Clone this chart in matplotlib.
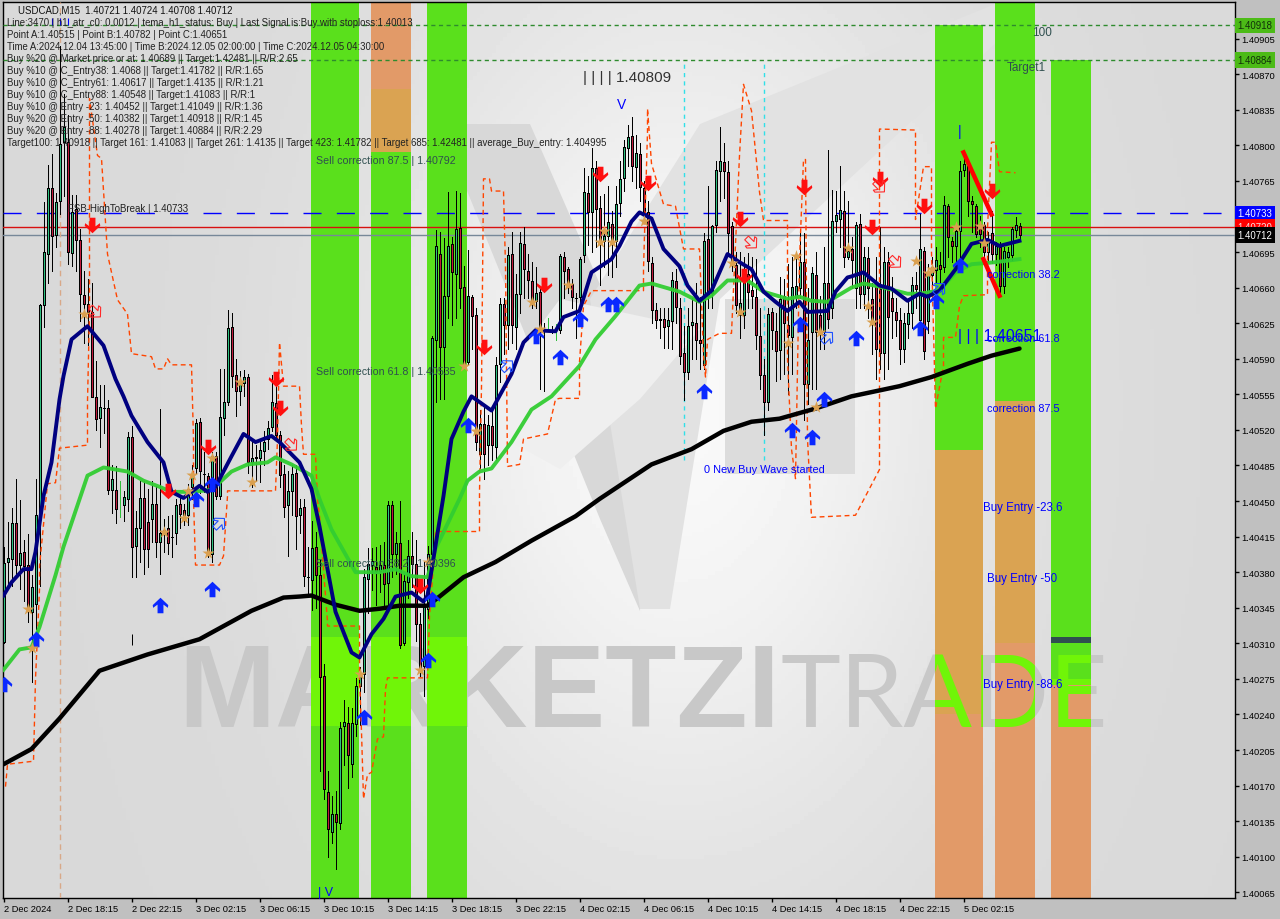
import matplotlib
matplotlib.use("Agg")
import matplotlib.pyplot as plt
import numpy as np
from matplotlib.patches import Polygon
from matplotlib.path import Path
from matplotlib.transforms import Affine2D, Bbox, TransformedBbox

# all prices are stored as points above 1.40000
opens = [311,390,393,428,387,400,387,341,349,435,
         643,693,758,712,745,803,803,694,737,707,
         653,644,636,552,532,542,542,461,461,452,
         446,452,513,406,423,453,429,432,447,410,
         418,423,415,419,447,441,436,464,482,528,
         477,475,398,494,455,532,547,621,574,558,
         566,572,488,492,492,499,511,523,546,515,
         477,446,460,478,436,444,375,372,405,377,
         278,164,124,142,133,229,232,191,231,268,
         280,373,387,385,381,387,369,446,398,409,
         310,370,396,388,329,288,344,398,608,693,
         602,652,703,673,719,661,587,651,633,496,
         526,505,524,503,585,644,623,693,621,654,
         703,676,666,647,656,618,618,618,618,618,
         690,678,664,650,651,692,753,734,778,738,
         706,711,723,706,743,768,797,809,779,791,
         758,734,684,638,629,629,622,627,666,640,
         596,577,623,625,608,584,708,655,722,775,
         784,774,721,682,633,633,673,658,651,612,
         574,547,636,617,599,652,623,611,651,660,
         685,565,616,672,633,616,665,640,726,727,
         735,690,698,660,723,654,689,649,665,659,
         596,685,650,636,628,600,624,635,663,628,
         696,627,672,677,682,680,740,706,701,716,
         776,780,745,740,723,722,695,714,693,700,
         662,690,692,717,721]
highs = [405,429,443,472,451,412,418,377,472,644,
         744,781,791,753,898,850,830,751,751,718,
         676,668,665,588,564,564,549,485,484,470,
         460,518,524,440,470,470,462,470,465,541,
         432,435,436,452,455,447,467,485,531,532,
         498,478,498,498,580,580,638,635,590,578,
         579,575,508,505,508,519,529,574,564,519,
         485,480,485,485,452,452,405,430,420,392,
         290,184,160,165,233,254,247,246,276,287,
         383,404,404,405,407,410,450,450,420,450,
         378,412,420,412,340,390,406,612,717,715,
         709,754,710,755,753,681,697,653,640,540,
         545,535,540,592,650,650,700,715,673,715,
         720,693,685,680,660,625,630,622,624,693,
         695,680,668,655,690,778,770,797,785,750,
         752,760,735,760,785,805,820,828,810,802,
         765,745,690,645,640,640,640,675,678,650,
         622,640,650,665,651,714,760,722,785,818,
         802,785,725,695,695,690,694,690,688,640,
         590,640,640,635,670,668,683,690,690,715,
         714,660,680,695,652,700,795,756,755,780,
         755,745,710,725,732,700,700,665,690,720,
         700,695,670,650,640,635,650,670,675,732,
         700,683,690,700,695,750,742,710,720,785,
         790,785,750,742,730,725,715,735,705,705,
         700,700,720,729,724]
lows = [310,363,366,377,363,352,331,272,324,366,
        621,665,676,700,732,750,683,681,676,627,
        605,604,552,520,503,517,457,438,428,434,
        430,440,375,375,390,378,385,410,395,378,
        400,398,395,408,423,426,426,452,478,458,
        459,395,390,452,452,515,544,562,534,544,
        553,478,464,470,469,485,501,519,510,464,
        434,396,436,403,419,366,358,343,345,184,
        157,100,114,88,127,190,168,178,219,230,
        262,340,362,348,360,345,348,375,378,305,
        308,355,365,312,278,258,335,400,547,550,
        550,630,623,630,640,583,585,600,500,482,
        472,485,490,490,567,595,600,605,600,635,
        650,650,640,640,560,558,618,615,608,615,
        650,655,640,610,640,685,702,695,700,663,
        680,672,670,680,730,755,780,765,758,745,
        725,676,625,620,610,601,601,600,625,585,
        549,570,590,590,580,580,640,640,715,745,
        748,695,676,635,610,620,640,640,600,560,
        515,540,600,568,570,575,555,575,640,650,
        530,545,560,560,600,600,620,630,715,700,
        680,688,660,640,640,640,630,595,570,580,
        570,580,610,612,585,587,610,620,640,620,
        590,615,660,665,665,675,690,685,685,690,
        770,730,715,710,700,688,685,684,682,656,
        655,680,687,710,708]
closes = [389,394,428,387,399,386,345,365,436,643,
          695,758,711,744,801,818,695,734,707,654,
          644,636,552,531,543,542,461,472,442,452,
          454,513,405,423,453,403,403,447,410,419,
          421,409,415,446,437,436,462,477,527,480,
          477,400,494,455,533,547,620,573,558,568,
          572,488,492,493,500,508,522,547,515,476,
          444,460,477,435,443,376,375,404,377,277,
          167,127,142,134,227,233,200,232,268,278,
          375,388,391,381,387,368,446,398,409,308,
          371,396,388,329,286,346,398,610,701,602,
          652,701,675,718,660,585,652,632,508,526,
          496,525,505,584,644,623,692,623,654,704,
          678,667,646,655,618,618,618,618,618,691,
          676,663,651,650,688,754,734,778,737,705,
          711,725,705,742,767,798,808,780,792,759,
          734,686,638,628,628,621,628,667,641,593,
          577,622,626,608,605,706,652,721,776,785,
          775,714,682,643,645,674,656,652,613,574,
          547,634,618,598,649,625,613,661,662,685,
          565,608,674,616,616,665,629,726,731,736,
          690,696,687,722,654,690,660,626,600,596,
          685,631,637,628,600,625,635,663,659,698,
          598,673,680,687,678,741,710,701,716,775,
          782,745,742,713,713,695,708,693,701,662,
          696,695,718,722,712]
thin_green = [29, 136, 138]

navy_bar = [0,2,5,7,8,10,12,14,15,17,21,25,28,30,32,36,40,42,45,49,51,53,57,60,63,67,69,74,77,79,83,
            87,89,92,95,98,102,105,106,110,112,115,117,122,127,130,133,138,140,144,147,152,154,157,159,
            162,165,169,171,174,177,181,184,187,190,193,196,199,201,206,208,211,212,215,219,222,226,229,
            231,234,238,242,246,249,254]
navy_val = [357,370,383,383,400,455,488,550,573,609,622,603,570,553,534,508,488,459,453,465,459,464,494,
            516,508,514,508,488,462,425,341,301,296,319,334,356,360,351,357,455,511,538,553,539,575,606,
            618,617,631,637,675,688,701,725,734,728,698,681,662,647,657,693,685,678,656,646,637,646,636,
            637,656,670,671,675,662,659,647,654,651,657,678,703,707,701,706]
green_bar = [0,4,7,9,13,15,18,21,25,31,35,39,42,47,52,57,61,66,68,72,77,79,82,88,94,98,102,106,108,114,
             116,119,122,127,132,137,144,148,153,159,162,169,174,177,181,186,190,196,199,202,206,212,215,
             219,226,229,234,238,242,248,254]
green_val = [284,304,306,326,377,405,440,475,483,479,470,464,459,459,461,479,486,488,493,486,475,452,422,
             380,380,383,376,375,403,452,470,479,482,508,540,553,583,609,632,662,664,656,646,652,667,667,
             656,649,651,647,646,660,664,661,654,654,657,675,683,685,688]
black_bar = [0,7,14,24,36,49,62,70,74,77,83,89,94,99,106,109,115,123,132,143,149,162,172,180,187,194,203,
             212,224,232,241,247,254]
black_val = [191,206,236,283,299,314,342,355,356,357,348,342,344,347,347,356,375,390,411,435,452,486,501,
             519,528,531,541,553,563,572,585,593,600]

step_bar = [0.5,1,7.5,8,9,9,11,13,14,21,21,21.5,21.5,23.5,24.5,26,28.5,31,32,37,38,40,41,42,47,47.5,47.5,48,
            54,55,56,56,68,68.5,69,70,74,74.5,75,78,78.5,79,81,81,89,89,89.5,90,91,92,93.5,95,95.5,96,106,
            106.5,108,108,119,119,119.5,120,121.5,122,125,125.5,126,129,130,136,138,139,144,144,145,147,160,
            160,161,161,162,165,168,170,174,175,175.5,176,179,182,184,185,187,189,190,196,196,197,198,199,
            200,200.5,201,202,213,219,219,228,228,230,232,232,233,235,235,238,239,240,246,246,247,248,249,253]
step_val = [169,191,194,275,363,386,467,468,502,505,548,636,846,790,787,693,648,634,595,592,580,580,590,584,
            584,511,452,387,387,396,455,460,460,511,606,563,563,524,496,496,452,435,331,327,327,278,223,157,
            181,183,216,218,265,276,276,337,413,420,420,459,563,767,767,755,755,681,484,486,511,516,550,551,
            551,587,642,657,657,678,813,836,782,742,740,698,698,593,572,609,615,615,790,860,834,754,726,726,
            590,501,472,688,786,786,511,434,436,481,816,815,727,779,779,695,541,583,611,611,642,652,653,718,
            803,803,774,773]

up_bar = [0,8,39,52,48,52,90,106,116,107,133,139,144,151,153,175,199,205,197,202,213,229,233,239]
up_val = [270,314,348,363,452,467,237,294,525,354,612,592,629,644,644,558,624,550,520,513,610,620,647,682]
down_bar = [22,41,51,68,69,120,104,135,149,161,184,200,219,217,185,230,247]
down_val = [722,460,503,570,542,602,366,663,772,763,727,759,767,720,671,740,755]
hollow_up_bar = [54,126,206,234]
hollow_up_val = [428,583,611,659]
hollow_down_bar = [23,72,187,223,219]
hollow_down_val = [636,505,704,685,759]
star_bar = [20,40,46,45,47,52,51,59,62,6,7,115,118,104,89,106,132,134,141,149,152,150,160,182,184,198,196,
            204,211,216,217,203,228,232,231,238,244,245]
star_val = [634,420,460,433,476,492,399,567,469,344,305,583,519,284,280,390,646,619,663,705,705,716,726,684,
            636,691,605,616,699,642,626,543,686,678,674,720,721,704]

# wave legs, bar and price at each end
red_leg_bars = [[240, 247], [245, 249]]
red_leg_vals = [[793, 732], [688, 652]]

# colour zones: first bar, last bar, top and bottom price
green_zones = [(77, 89, 941, 59), (92, 102, 793, 59), (106, 116, 941, 59),
               (233, 245, 918, 500), (248, 258, 941, 548), (262, 272, 884, 269)]
tan_zones = [(233, 245, 500, 240), (248, 258, 548, 310), (92, 102, 855, 793)]
salmon_zones = [(233, 245, 240, 59), (248, 258, 310, 59), (262, 272, 269, 59), (92, 102, 941, 855)]

level_green = [1.40918, 1.40884]
level_blue = 1.40733
level_red = 1.40720
level_last = 1.40712

date_labels = ["2 Dec 2024", "2 Dec 18:15", "2 Dec 22:15", "3 Dec 02:15", "3 Dec 06:15", "3 Dec 10:15",
               "3 Dec 14:15", "3 Dec 18:15", "3 Dec 22:15", "4 Dec 02:15", "4 Dec 06:15", "4 Dec 10:15",
               "4 Dec 14:15", "4 Dec 18:15", "4 Dec 22:15", "5 Dec 02:15"]
price_ticks = [1.40065 + 0.00035 * i for i in range(25)]

header_lines = [
    "Line:3470 | h1_atr_c0: 0.0012 | tema_h1_status: Buy | Last Signal is:Buy with stoploss:1.40013",
    "Point A:1.40515 | Point B:1.40782 | Point C:1.40651",
    "Time A:2024.12.04 13:45:00 | Time B:2024.12.05 02:00:00 | Time C:2024.12.05 04:30:00",
    "Buy %20 @ Market price or at: 1.40689 || Target:1.42481 || R/R:2.65",
    "Buy %10 @ C_Entry38: 1.4068 || Target:1.41782 || R/R:1.65",
    "Buy %10 @ C_Entry61: 1.40617 || Target:1.4135 || R/R:1.21",
    "Buy %10 @ C_Entry88: 1.40548 || Target:1.41083 || R/R:1",
    "Buy %10 @ Entry -23: 1.40452 || Target:1.41049 || R/R:1.36",
    "Buy %20 @ Entry -50: 1.40382 || Target:1.40918 || R/R:1.45",
    "Buy %20 @ Entry -88: 1.40278 || Target:1.40884 || R/R:2.29",
    "Target100: 1.40918 || Target 161: 1.41083 || Target 261: 1.4135 || Target 423: 1.41782 || Target 685: 1.42481 || average_Buy_entry: 1.404995",
]


def price(values):
    return 1.4 + np.asarray(values, dtype=float) / 1e5


FONT = "Liberation Sans"
BAND_SHIFT = -0.125

fig = plt.figure(figsize=(12.8, 9.2), dpi=100, facecolor="#c0c0c0")
ax = fig.add_axes([3 / 1280, 21 / 920, 1232 / 1280, 896 / 920])
px = Affine2D().scale(1, -1).translate(0, 920)

x_lo, x_hi = -0.125, 307.875
y_lo, y_hi = 1.4 + 59.4 / 1e5, 1.4 + 941 / 1e5

# background glow
yy, xx = np.mgrid[0:1:230j, 0:1:320j]
glow = np.exp(-(((xx - 0.55) / 0.24) ** 2 + ((yy - 0.55) / 0.5) ** 2))
back = 0.85 + 0.125 * glow
ax.imshow(back, extent=[x_lo, x_hi, y_lo, y_hi], origin="lower", aspect="auto", cmap="gray",
          vmin=0, vmax=1, zorder=0)

# logo shapes behind the chart
logo_shapes = [
    ([(440, 125), (530, 125), (650, 400), (640, 612), (600, 520)], "#d8d8d8"),
    ([(590, 300), (700, 125), (1000, 3), (1040, 3), (720, 300), (670, 610), (640, 610)], "#e2e2e2"),
    ([(725, 300), (855, 300), (855, 475), (725, 475)], "#dcdcdc"),
    ([(470, 420), (560, 300), (700, 330), (640, 400), (560, 470)], "#efefef"),
]
for verts, col in logo_shapes:
    ax.add_patch(Polygon(verts, closed=True, transform=px, facecolor=col, edgecolor="none", zorder=0.5))

ax.text(178, 727, "MARKETZI", transform=px, fontsize=84, fontweight="bold", family=FONT,
        color="#c8c8c8", ha="left", va="baseline", zorder=1)
ax.text(780, 727, "TRADE", transform=px, fontsize=73, family="Lato", fontweight="normal",
        color="#c8c8c8", ha="left", va="baseline", zorder=1)

# colour zones
for zones, col in [(green_zones, "#5ae01c"), (tan_zones, "#daa352"), (salmon_zones, "#e29a68")]:
    for a, b, top, bot in zones:
        ax.bar(a + BAND_SHIFT, price(top) - price(bot), width=b - a, bottom=price(bot), align="edge",
               color=col, linewidth=0, zorder=2)
for a, b, top, bot in green_zones[:3]:
    ax.bar(a + BAND_SHIFT, price(316) - price(229), width=b - a, bottom=price(229), align="edge",
           color="#70f508", linewidth=0, zorder=2.1)
ax.bar(261.875, price(316) - price(310), width=10, bottom=price(310), align="edge", color="#2f4f4f",
       linewidth=0, zorder=2.1)
ax.bar(261.875, price(275) - price(269), width=10, bottom=price(269), align="edge", color="#70f508",
       linewidth=0, zorder=2.1)

# the TRADE watermark turns lime on top of the zones, one clipped copy per zone
for a, b, top, bot in green_zones[3:]:
    lime = ax.text(780, 727, "TRADE", transform=px, fontsize=73, family="Lato", fontweight="normal",
                   color="#70f508", ha="left", va="baseline", zorder=2.2, clip_on=True)
    lime.set_clip_box(TransformedBbox(Bbox([[a + BAND_SHIFT, y_lo], [b + BAND_SHIFT, y_hi]]), ax.transData))

# level lines
for lev in level_green:
    ax.axhline(lev, color="#2e8b2e", lw=1, ls=(0, (3, 2.5)), zorder=3)
ax.axhline(level_blue, color="#0000ff", lw=1, ls=(0, (13, 11)), zorder=3)
ax.axhline(level_red, color="#d81010", lw=1, zorder=3)
ax.axhline(level_last, color="#778899", lw=1, zorder=3)

# session markers
ax.vlines([14.0], y_lo, y_hi, color="#d8a888", lw=1, ls=(0, (4, 3)), zorder=3)
ax.vlines([170, 190], price(490), y_hi - 0.00058, color="#30e0e8", lw=1, ls=(0, (3, 3)), zorder=3)

# candles
o = np.array(opens)
h = np.array(highs)
l = np.array(lows)
c = np.array(closes)
idx = np.arange(len(o))
thin = np.isin(idx, thin_green)
ax.vlines(idx[~thin], price(l[~thin]), price(h[~thin]), color="black", lw=0.72, antialiased=False, zorder=4)
ax.vlines(idx[thin], price(l[thin]), price(h[thin]), color="#2fbf3a", lw=0.72, antialiased=False, zorder=4)
up = (c >= o) & ~thin
dn = (c < o) & ~thin
ax.bar(idx[up], price(c[up]) - price(o[up]), bottom=price(o[up]), width=0.5, color="#2fc080",
       edgecolor="black", linewidth=0.72, antialiased=False, zorder=4.1)
ax.bar(idx[dn], price(o[dn]) - price(c[dn]), bottom=price(c[dn]), width=0.5, color="#c01a3c",
       edgecolor="black", linewidth=0.72, antialiased=False, zorder=4.1)

# stray ticks the terminal leaves on the chart
ax.vlines([12, 14, 16], price(918), price(925), color="#0000ff", lw=0.8, zorder=4.2)
ax.vlines([32], price(308), price(319), color="black", lw=0.72, zorder=4.2)

# moving averages and the dashed trail
ax.plot(step_bar, price(step_val), color="#ff4500", lw=1, ls=(0, (3.5, 2.5)), zorder=5)
ax.plot(black_bar, price(black_val), color="black", lw=3.2, solid_capstyle="round", zorder=5.2)
ax.plot(green_bar, price(green_val), color="#32cd32", lw=2.8, alpha=0.95, zorder=5.3)
ax.plot(navy_bar, price(navy_val), color="#000080", lw=2.8, zorder=5.4)
for bars, vals in zip(red_leg_bars, red_leg_vals):
    ax.plot(bars, price(vals), color="#ff0000", lw=3.2, zorder=5.5)

# signal markers
up_arrow = Path([(0, 1), (1, 0.05), (0.95, -0.3), (0.38, 0.12), (0.38, -1), (-0.38, -1), (-0.38, 0.12),
                 (-0.95, -0.3), (-1, 0.05), (0, 1)], closed=True)
down_arrow = Path(up_arrow.vertices * [1, -1], closed=True)
ax.scatter(up_bar, price(up_val), marker=up_arrow, s=125, color="#0a28ff", linewidths=0, zorder=6)
ax.scatter(down_bar, price(down_val), marker=down_arrow, s=125, color="#ff0f0f", linewidths=0, zorder=6)
ne_arrow = Path(Affine2D().rotate_deg(-45).transform(up_arrow.vertices), closed=True)
se_arrow = Path(Affine2D().rotate_deg(45).transform(down_arrow.vertices), closed=True)
ax.scatter(hollow_up_bar, price(hollow_up_val), marker=ne_arrow, s=95, facecolors="none",
           edgecolors="#1e50ff", linewidths=0.8, zorder=6)
ax.scatter(hollow_down_bar, price(hollow_down_val), marker=se_arrow, s=95, facecolors="none",
           edgecolors="#ff2a2a", linewidths=0.8, zorder=6)
ax.scatter(star_bar, price(star_val), marker="*", s=85, color="#daa050", linewidths=0, zorder=6)

# axes
ax.set_xlim(x_lo, x_hi)
ax.set_ylim(y_lo, y_hi)
ax.yaxis.tick_right()
ax.set_yticks(price_ticks)
ax.set_yticklabels(["%.5f" % t for t in price_ticks], fontsize=6.7, family=FONT)
ax.set_xticks(np.arange(len(date_labels)) * 16)
ax.set_xticklabels(date_labels, fontsize=6.7, family=FONT, ha="left")
ax.tick_params(axis="both", length=3, width=1, color="black", labelcolor="black", pad=1.5)
for spine in ax.spines.values():
    spine.set_linewidth(1)

# right axis price boxes
for lev, bg, fg in [(level_green[0], "#4cbb17", "#10300a"), (level_green[1], "#4cbb17", "#10300a"),
                    (level_blue, "#0000ff", "white"), (level_red, "#ff0000", "#f5e0e0"),
                    (level_last, "black", "white")]:
    ax.text(1.0022, lev, "%.5f" % lev, transform=ax.get_yaxis_transform(), fontsize=6.9, family=FONT,
            color=fg, va="center", ha="left", clip_on=False, zorder=8,
            bbox=dict(facecolor=bg, edgecolor="none", boxstyle="square,pad=0.3"))


def put(x, y, s, size=7.2, color="black", **kw):
    fig.text(x / 1280, 1 - y / 920, s, fontsize=size, color=color, family=FONT, va="center", ha="left",
             zorder=10, **kw)


put(18, 10.5, "USDCAD,M15  1.40721 1.40724 1.40708 1.40712", size=6.9, color="#111111")
for i, line in enumerate(header_lines):
    put(7, 23.5 + i * 12, line, size=6.95, color="#222222")

slate = "#2f4f4f"
put(316, 161, "Sell correction 87.5 | 1.40792", size=7.7, color=slate)
put(316, 372, "Sell correction 61.8 | 1.40535", size=7.7, color=slate)
put(316, 564, "Sell correction 38.2 | 1.40396", size=7.7, color=slate)
put(68, 209, "FSB-HighToBreak | 1.40733", size=7, color="#222222")
put(583, 78, "| | | | 1.40809", size=11, color="#333333")
put(617, 105, "V", size=10, color="#0000ff")
put(958, 336, "| | | 1.40651", size=11.5, color="#0000ff")
put(318, 893, "| V", size=9, color="#0000ff")
put(957.5, 132, "|", size=10, color="#0000ff")
put(1032, 33, "100", size=8.5, color=slate)
put(1007, 68, "Target1", size=8.5, color=slate)
put(704, 470, "0 New Buy Wave started", size=7.9, color="#0000ff")
put(987, 275, "correction 38.2", size=7.8, color="#0000ff")
put(987, 339, "correction 61.8", size=7.8, color="#0000ff")
put(987, 409, "correction 87.5", size=7.8, color="#0000ff")
put(983, 508, "Buy Entry -23.6", size=8.3, color="#0000ff")
put(987, 579, "Buy Entry -50", size=8.3, color="#0000ff")
put(983, 685, "Buy Entry -88.6", size=8.3, color="#0000ff")

fig.savefig("out.png", dpi=100, facecolor=fig.get_facecolor())
